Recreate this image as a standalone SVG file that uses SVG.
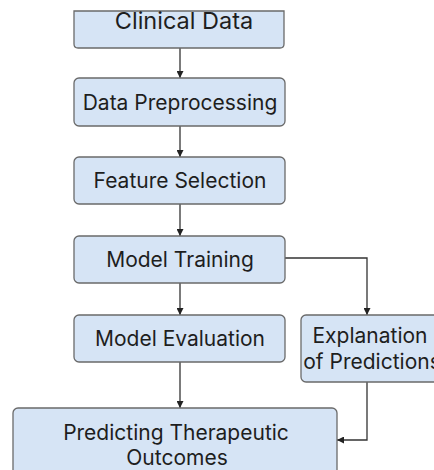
<svg xmlns="http://www.w3.org/2000/svg" width="434" height="470" viewBox="0 0 434 470">
<defs>
<style>
.box{fill:#d6e4f5;stroke:#6a6a6a;stroke-width:1.3}
.lbl{font-family:Inter,"Liberation Sans",sans-serif;font-size:21px;font-weight:400;fill:#1e1e1e;text-anchor:middle}
.con{fill:none;stroke:#333;stroke-width:1.3}
</style>
<marker id="ah" viewBox="0 0 10 10" refX="10" refY="5" markerWidth="7" markerHeight="7" markerUnits="userSpaceOnUse" orient="auto">
<path d="M0,0 L10,5 L0,10 z" fill="#222"/>
</marker>
</defs>
<rect width="434" height="470" fill="#fff"/>
<g id="connectors">
<path class="con" d="M180,48 V78" marker-end="url(#ah)"/>
<path class="con" d="M180,126 V157" marker-end="url(#ah)"/>
<path class="con" d="M180,204 V236" marker-end="url(#ah)"/>
<path class="con" d="M180,283 V315" marker-end="url(#ah)"/>
<path class="con" d="M285,258 H367 V315" marker-end="url(#ah)"/>
<path class="con" d="M180,362 V408" marker-end="url(#ah)"/>
<path class="con" d="M367,382 V440 H337" marker-end="url(#ah)"/>
</g>
<g id="clinical-data">
<path class="box" d="M74,11 H284 V44 Q284,48 280,48 H78 Q74,48 74,44 Z"/>
<text class="lbl" x="184" y="29" style="font-size:23.5px">Clinical Data</text>
</g>
<g id="data-preprocessing">
<rect class="box" x="74" y="78" width="211" height="48" rx="5"/>
<text class="lbl" x="180" y="109.5">Data Preprocessing</text>
</g>
<g id="feature-selection">
<rect class="box" x="74" y="157" width="211" height="47" rx="5"/>
<text class="lbl" x="180" y="188">Feature Selection</text>
</g>
<g id="model-training">
<rect class="box" x="74" y="236" width="211" height="47" rx="5"/>
<text class="lbl" x="180" y="267">Model Training</text>
</g>
<g id="model-evaluation">
<rect class="box" x="74" y="315" width="211" height="47" rx="5"/>
<text class="lbl" x="180" y="346">Model Evaluation</text>
</g>
<g id="explanation">
<rect class="box" x="301" y="315" width="150" height="67" rx="5"/>
<text class="lbl" x="370" y="343">Explanation</text>
<text class="lbl" x="372" y="369">of Predictions</text>
</g>
<g id="predicting">
<rect class="box" x="13" y="408" width="324" height="80" rx="5"/>
<text class="lbl" x="176" y="440">Predicting Therapeutic</text>
<text class="lbl" x="177" y="465">Outcomes</text>
</g>
</svg>
